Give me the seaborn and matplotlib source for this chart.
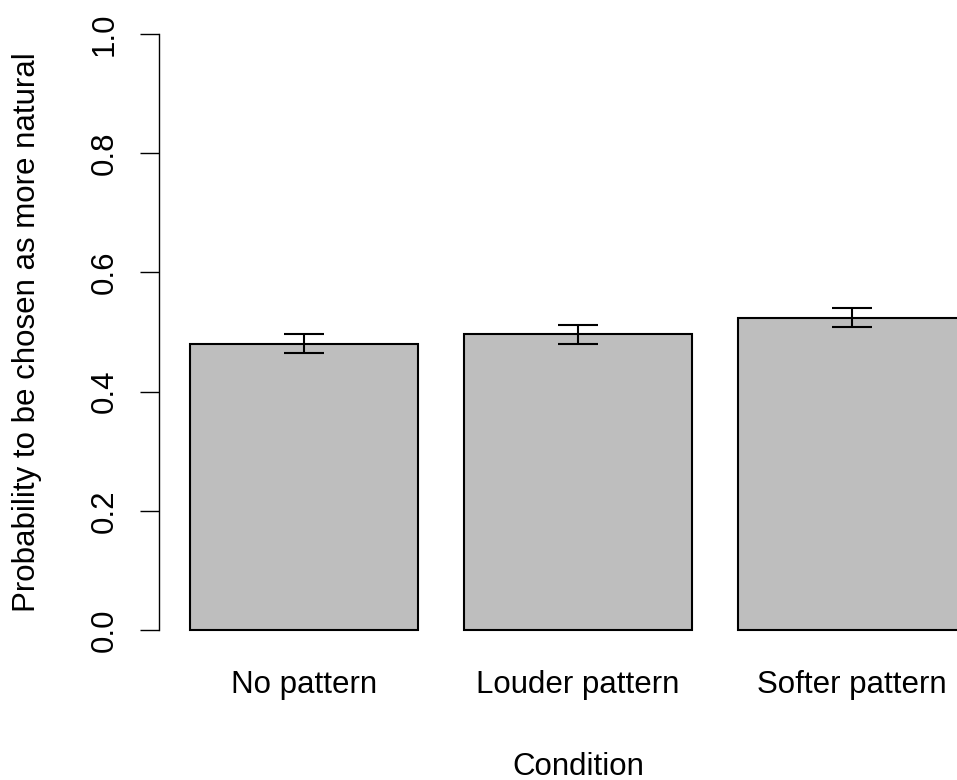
import matplotlib
matplotlib.use("Agg")
import matplotlib.pyplot as plt
import seaborn as sns
import pandas as pd

# Mean choice probability per condition with standard errors
conditions = ["No pattern", "Louder pattern", "Softer pattern"]
probabilities = [0.480, 0.496, 0.524]
std_errors = [0.016, 0.016, 0.016]
y_ticks = [0.0, 0.2, 0.4, 0.6, 0.8, 1.0]
y_tick_labels = ["0.0", "0.2", "0.4", "0.6", "0.8", "1.0"]

sns.set_theme(style="white")
plt.rcParams["font.family"] = ["Liberation Sans", "DejaVu Sans"]
FS = 22.5

df = pd.DataFrame({"Condition": conditions, "Probability": probabilities})

fig = plt.figure(figsize=(9.57, 7.80), dpi=100)
ax = fig.add_axes([159 / 957, (780 - 653.8) / 780, 838 / 957, 643.6 / 780])

sns.barplot(data=df, x="Condition", y="Probability", order=conditions,
            color="#BEBEBE", saturation=1, width=1 / 1.2,
            edgecolor="black", linewidth=1.5, errorbar=None, ax=ax)

ax.errorbar(range(len(conditions)), probabilities, yerr=std_errors,
            fmt="none", ecolor="black", elinewidth=1.5,
            capsize=14.4, capthick=1.5, zorder=5)

ax.set_xlim(-0.53, 2.53)
ax.set_ylim(-0.04, 1.04)

for side in ["top", "right", "bottom"]:
    ax.spines[side].set_visible(False)
ax.spines["left"].set_bounds(0, 1)
ax.spines["left"].set_color("black")
ax.spines["left"].set_linewidth(1.0)

ax.set_yticks(y_ticks)
ax.set_yticklabels(y_tick_labels, rotation=90, va="center", fontsize=FS)
ax.tick_params(axis="y", left=True, length=14, width=1.0, color="black",
               pad=14.4, labelcolor="black")
ax.tick_params(axis="x", bottom=False, length=0, pad=12, labelsize=FS,
               labelcolor="black")

ax.set_xlabel("Condition", fontsize=FS, color="black", va="baseline")
ax.xaxis.set_label_coords(0.5, -0.188)
ax.set_ylabel("Probability to be chosen as more natural", fontsize=FS,
              color="black", va="baseline")
ax.yaxis.set_label_coords(-0.148, 0.5)

ax.grid(False)
fig.savefig("out.png", dpi=100)
